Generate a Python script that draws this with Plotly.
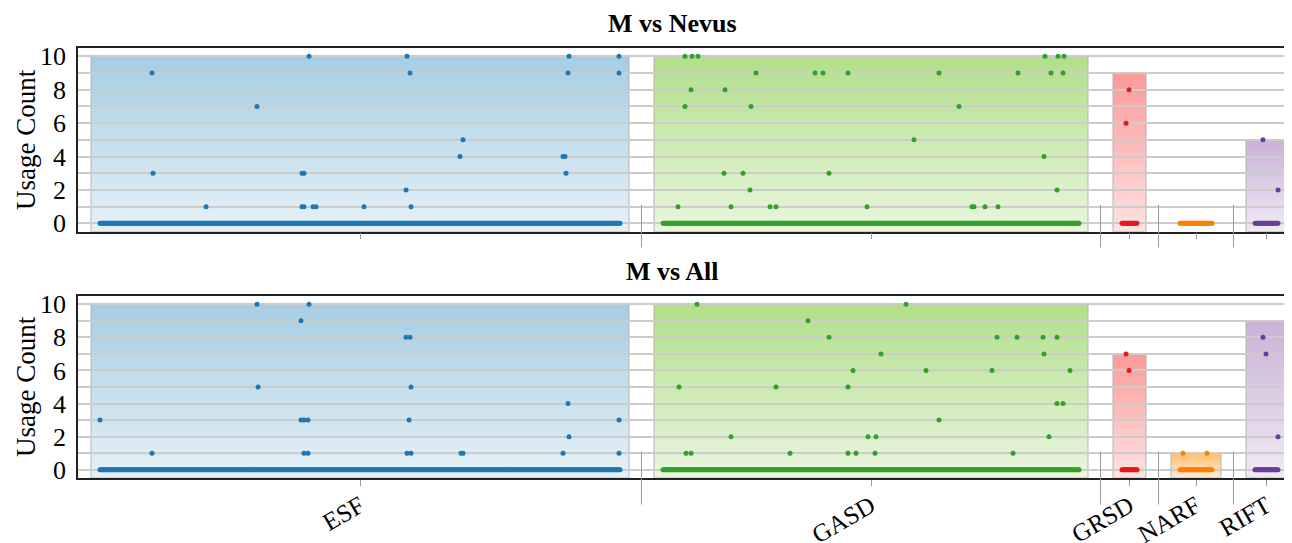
import plotly.graph_objects as go

# ---------------- data ----------------
groups = ["ESF", "GASD", "GRSD", "NARF", "RIFT"]
group_sizes = [521, 417, 16, 33, 24]          # number of items (x positions) per group
point_colors = ["#1f78b4", "#33a02c", "#e31a1c", "#ff7f00", "#6a3d9a"]
bar_colors = ["#a6cee3", "#b2df8a", "#fb9a99", "#fdbf6f", "#cab2d6"]

# Bar heights per group
nevus_bar = [10, 10, 9, 0, 5]
all_bar = [10, 10, 7, 1, 9]

# Non-zero usage counts: (item index within group, count); every other item is 0
nevus_esf = [(52, 9), (53, 3), (106, 1), (157, 7), (209, 10), (202, 3), (204, 3), (202, 1), (204, 1),
             (213, 1), (216, 1), (264, 1), (307, 10), (310, 9), (306, 2), (311, 1), (363, 5), (360, 4),
             (463, 4), (465, 4), (466, 3), (469, 10), (468, 9), (519, 10), (519, 9)]
nevus_gasd = [(22, 10), (29, 10), (35, 10), (93, 9), (152, 9), (160, 9), (185, 9), (28, 8), (62, 8),
              (22, 7), (88, 7), (61, 3), (80, 3), (166, 3), (87, 2), (15, 1), (68, 1), (107, 1),
              (113, 1), (204, 1), (382, 10), (395, 10), (401, 10), (276, 9), (355, 9), (388, 9),
              (400, 9), (296, 7), (251, 5), (381, 4), (394, 2), (309, 1), (311, 1), (322, 1), (335, 1)]
nevus_grsd = [(7, 8), (4, 6)]
nevus_narf = []
nevus_rift = [(8, 5), (23, 2)]

all_esf = [(0, 3), (52, 1), (157, 10), (209, 10), (201, 9), (158, 5), (201, 3), (204, 3), (208, 3),
           (204, 1), (208, 1), (306, 8), (310, 8), (311, 5), (309, 3), (307, 1), (311, 1), (361, 1),
           (363, 1), (468, 4), (469, 2), (463, 1), (519, 3), (519, 1)]
all_gasd = [(16, 5), (23, 1), (28, 1), (34, 10), (68, 2), (113, 5), (127, 1), (145, 9), (166, 8),
            (185, 5), (190, 6), (185, 1), (193, 1), (205, 2), (213, 2), (212, 1), (218, 7), (243, 10),
            (263, 6), (276, 3), (329, 6), (334, 8), (350, 1), (354, 8), (380, 8), (381, 7), (386, 2),
            (394, 8), (394, 4), (400, 4), (407, 6)]
all_grsd = [(4, 7), (7, 6)]
all_narf = [(3, 1), (27, 1)]
all_rift = [(8, 8), (11, 7), (23, 2)]

panels = [
    ("M vs Nevus", [nevus_esf, nevus_gasd, nevus_grsd, nevus_narf, nevus_rift], nevus_bar),
    ("M vs All", [all_esf, all_gasd, all_grsd, all_narf, all_rift], all_bar),
]

# ---------------- layout constants ----------------
PAD = 9      # bar padding around first/last item
GAP = 25     # empty space between bars
YMIN, YMAX = -0.5, 10.5
FONT = "Liberation Serif, Times New Roman, serif"

starts = []
s = 0
for n in group_sizes:
    starts.append(s)
    s = s + n - 1 + 2 * PAD + GAP
centers = [st + (n - 1) / 2 for st, n in zip(starts, group_sizes)]
bar_l = [st - PAD for st in starts]
bar_r = [st + n - 1 + PAD for st, n in zip(starts, group_sizes)]
bounds = [(bar_r[i] + bar_l[i + 1]) / 2 for i in range(len(groups) - 1)]


def hex2rgb(h):
    h = h.lstrip("#")
    return tuple(int(h[i:i + 2], 16) for i in (0, 2, 4))


def blend(c, a):
    r, g, b = hex2rgb(c)
    return "rgb(%d,%d,%d)" % (round(255 - a * (255 - r)), round(255 - a * (255 - g)), round(255 - a * (255 - b)))


fig = go.Figure()
shapes = []
N_STRIPS = 40

for p, (title, nonzero, bars) in enumerate(panels):
    xa = "x" if p == 0 else "x2"
    ya = "y" if p == 0 else "y2"
    for g, name in enumerate(groups):
        n = group_sizes[g]
        xs = [starts[g] + i for i in range(n)]
        ys = [0] * n
        for idx, val in nonzero[g]:
            xs.append(starts[g] + idx)
            ys.append(val)
        fig.add_trace(go.Scatter(
            x=xs, y=ys, mode="markers", xaxis=xa, yaxis=ya, showlegend=False, name=name,
            marker=dict(size=5, color=point_colors[g], line=dict(width=0)),
        ))
        h = bars[g]
        if h > 0:
            for j in range(N_STRIPS):
                y0 = YMIN + (h - YMIN) * j / N_STRIPS
                t = (j + 0.5) / N_STRIPS
                a = 0.28 + 0.72 * t
                shapes.append(dict(type="rect", xref=xa, yref=ya, x0=bar_l[g], x1=bar_r[g], y0=y0, y1=h,
                                   fillcolor=blend(bar_colors[g], a), line=dict(width=0), layer="below"))
            shapes.append(dict(type="rect", xref=xa, yref=ya, x0=bar_l[g], x1=bar_r[g], y0=YMIN, y1=h,
                               fillcolor="rgba(0,0,0,0)", line=dict(width=1, color="#b4b4b4"), layer="below"))
    # group separators
    ybot = -0.085 if p == 0 else -0.146
    for b in bounds:
        shapes.append(dict(type="line", xref=xa, yref=ya + " domain", x0=b, x1=b, y0=ybot, y1=0.145,
                           line=dict(width=1, color="#9a9a9a"), layer="above"))

# page is offset 8px by the html body margin; positions below are in page pixels
OFF = 8
L = 78 - OFF
T = 48 - OFF
PLOT_BOTTOM = 478 - OFF
B = 543 - PLOT_BOTTOM
H = 543 - T - B
W = 1292 - L
top_dom = [(PLOT_BOTTOM - (231.7 - OFF)) / H, 1]
bot_dom = [0, (PLOT_BOTTOM - (296 - OFF)) / H]

xcommon = dict(range=[-22, -22 + W], showgrid=False, zeroline=False, showline=True, linecolor="#222",
               linewidth=1.5, mirror=True, tickvals=centers, ticktext=groups, ticks="outside",
               ticklen=6, tickcolor="#9a9a9a", tickwidth=1)
ycommon = dict(range=[YMIN, YMAX], tick0=0, dtick=2, showgrid=True, gridcolor="#cccccc", gridwidth=1.5,
               zeroline=False, showline=True, linecolor="#222", linewidth=1.5, ticks="",
               ticklabelstandoff=5, tickfont=dict(family=FONT, size=26, color="black"),
               minor=dict(dtick=1, tick0=0, showgrid=True, gridcolor="#cccccc", gridwidth=1.5))


def px_x(px):
    return (px - 78) / W


def px_y(py):
    return (PLOT_BOTTOM - (py - OFF)) / H


annotations = []
for p, (title, _, _) in enumerate(panels):
    ty = px_y(24) if p == 0 else px_y(271)
    annotations.append(dict(text="<b>%s</b>" % title, xref="paper", yref="paper", x=px_x(672),
                            y=ty, xanchor="center", yanchor="middle", showarrow=False,
                            font=dict(family=FONT, size=26, color="black")))
    ly = px_y(140) if p == 0 else px_y(387)
    annotations.append(dict(text="Usage Count", xref="paper", yref="paper", x=px_x(26), y=ly,
                            xanchor="center", yanchor="middle", textangle=-90, showarrow=False,
                            font=dict(family=FONT, size=27, color="black")))

fig.update_layout(
    width=1292, height=543,
    margin=dict(l=L, r=0, t=T, b=B),
    paper_bgcolor="white", plot_bgcolor="white",
    xaxis=dict(**xcommon, anchor="y", showticklabels=False),
    yaxis=dict(**ycommon, domain=top_dom, anchor="x"),
    xaxis2=dict(**xcommon, anchor="y2", showticklabels=True, tickangle=-30, automargin=False,
                ticklabelstandoff=-4, tickfont=dict(family=FONT, size=25, color="black")),
    yaxis2=dict(**ycommon, domain=bot_dom, anchor="x2"),
    shapes=shapes,
    annotations=annotations,
    font=dict(family=FONT),
)

fig.write_html("out.html")
